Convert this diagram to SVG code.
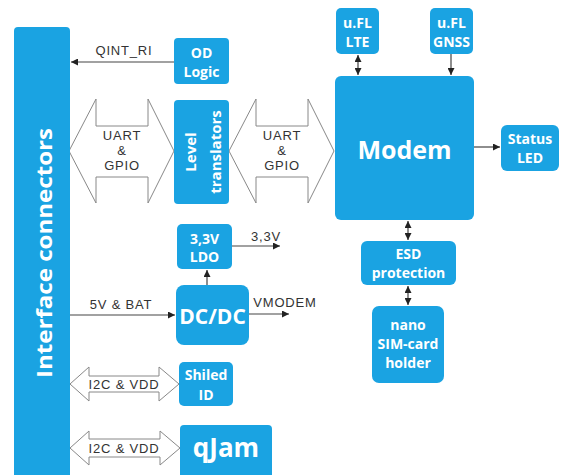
<svg xmlns="http://www.w3.org/2000/svg" width="564" height="475" viewBox="0 0 564 475">
<style>
.box{fill:#1aa3e2}
.wt{fill:#fff;font-family:"Open Sans","Liberation Sans",sans-serif;font-weight:700;text-anchor:middle;dominant-baseline:central}
.s{font-size:14px}
.dt{fill:#333;font-family:"Liberation Sans",Arial,sans-serif;font-size:13px;letter-spacing:0.8px;text-anchor:middle;dominant-baseline:central}
.ln{stroke:#444;stroke-width:1.2;fill:none}
.big{fill:#fff;stroke:#888;stroke-width:1}
</style>
<defs>
<marker id="ah" viewBox="0 0 10 10" refX="10" refY="5" markerWidth="7" markerHeight="7" markerUnits="userSpaceOnUse" orient="auto-start-reverse"><path d="M0,0 L10,5 L0,10 Z" fill="#222"/></marker>
</defs>
<g id="connectors">
<polygon class="big" points="69,151 96,99 96,126 148,126 148,99 174,151 148,203 148,177 96,177 96,203"/>
<polygon class="big" points="229,151 256,99 256,126 308,126 308,99 334,151 308,203 308,177 256,177 256,203"/>
<polygon class="big" points="70,384 89,367 89,376 159,376 159,367 179,384 159,401 159,392 89,392 89,401"/>
<polygon class="big" points="70,448 89,431 89,439 160,439 160,431 180,448 160,465 160,457 89,457 89,465"/>
<line class="ln" x1="174" y1="62" x2="71" y2="62" marker-end="url(#ah)"/>
<line class="ln" x1="358" y1="55" x2="358" y2="75" marker-start="url(#ah)" marker-end="url(#ah)"/>
<line class="ln" x1="451" y1="54" x2="451" y2="75" marker-end="url(#ah)"/>
<line class="ln" x1="474" y1="147" x2="500" y2="147" marker-end="url(#ah)"/>
<line class="ln" x1="408" y1="221" x2="408" y2="240" marker-start="url(#ah)" marker-end="url(#ah)"/>
<line class="ln" x1="408" y1="286" x2="408" y2="305" marker-start="url(#ah)" marker-end="url(#ah)"/>
<line class="ln" x1="207" y1="285" x2="207" y2="270" marker-end="url(#ah)"/>
<line class="ln" x1="232" y1="246" x2="280" y2="246" marker-end="url(#ah)"/>
<line class="ln" x1="70" y1="315" x2="175" y2="315" marker-end="url(#ah)"/>
<line class="ln" x1="249" y1="314" x2="289" y2="314" marker-end="url(#ah)"/>
<text class="dt" x="124" y="50">QINT_RI</text>
<text class="dt" x="122" y="135">UART</text>
<text class="dt" x="122" y="150">&amp;</text>
<text class="dt" x="122" y="165">GPIO</text>
<text class="dt" x="282" y="135">UART</text>
<text class="dt" x="282" y="150">&amp;</text>
<text class="dt" x="282" y="165">GPIO</text>
<text class="dt" x="266" y="236">3,3V</text>
<text class="dt" x="121" y="304">5V &amp; BAT</text>
<text class="dt" x="285" y="302">VMODEM</text>
<text class="dt" x="124" y="384">I2C &amp; VDD</text>
<text class="dt" x="124" y="448">I2C &amp; VDD</text>
</g>
<g id="interface">
<rect class="box" x="14" y="27" width="56" height="460" rx="4"/>
<text class="wt" font-size="22" transform="translate(43,253) rotate(-90)" textLength="250" lengthAdjust="spacingAndGlyphs">Interface connectors</text>
</g>
<g id="od-logic">
<rect class="box" x="174" y="38" width="55" height="46" rx="4"/>
<text class="wt s" x="201.5" y="52">OD</text>
<text class="wt s" x="201.5" y="71">Logic</text>
</g>
<g id="level">
<rect class="box" x="174" y="100" width="55" height="104" rx="4"/>
<text class="wt" font-size="15" transform="translate(190,152) rotate(-90)">Level</text>
<text class="wt" font-size="15" transform="translate(215,152) rotate(-90)">translators</text>
</g>
<g id="modem">
<rect class="box" x="335" y="76" width="139" height="144" rx="6"/>
<text class="wt" font-size="25" x="404.5" y="149">Modem</text>
</g>
<g id="ufl-lte">
<rect class="box" x="336" y="8" width="43" height="46" rx="5"/>
<text class="wt s" x="357.5" y="22">u.FL</text>
<text class="wt s" x="357.5" y="41">LTE</text>
</g>
<g id="ufl-gnss">
<rect class="box" x="430" y="8" width="43" height="46" rx="5"/>
<text class="wt s" x="451.5" y="22">u.FL</text>
<text class="wt s" x="451.5" y="41">GNSS</text>
</g>
<g id="status-led">
<rect class="box" x="501" y="125" width="58" height="46" rx="6"/>
<text class="wt s" x="530" y="138">Status</text>
<text class="wt s" x="530" y="157">LED</text>
</g>
<g id="esd">
<rect class="box" x="361" y="241" width="95" height="44" rx="6"/>
<text class="wt s" x="408.5" y="253">ESD</text>
<text class="wt s" x="408.5" y="272">protection</text>
</g>
<g id="sim">
<rect class="box" x="372" y="306" width="72" height="77" rx="7"/>
<text class="wt s" x="408" y="324">nano</text>
<text class="wt s" x="408" y="343">SIM-card</text>
<text class="wt s" x="408" y="362">holder</text>
</g>
<g id="ldo">
<rect class="box" x="177" y="224" width="55" height="45" rx="5"/>
<text class="wt s" x="204.5" y="238">3,3V</text>
<text class="wt s" x="204.5" y="256">LDO</text>
</g>
<g id="dcdc">
<rect class="box" x="176" y="285" width="73" height="60" rx="8"/>
<text class="wt" font-size="21" x="212.5" y="316">DC/DC</text>
</g>
<g id="shield-id">
<rect class="box" x="179" y="362" width="54" height="44" rx="5"/>
<text class="wt s" x="206" y="374">Shiled</text>
<text class="wt s" x="206" y="394">ID</text>
</g>
<g id="qjam">
<rect class="box" x="180" y="425" width="92" height="55" rx="4"/>
<text class="wt" font-size="26" x="226" y="447">qJam</text>
</g>
</svg>
